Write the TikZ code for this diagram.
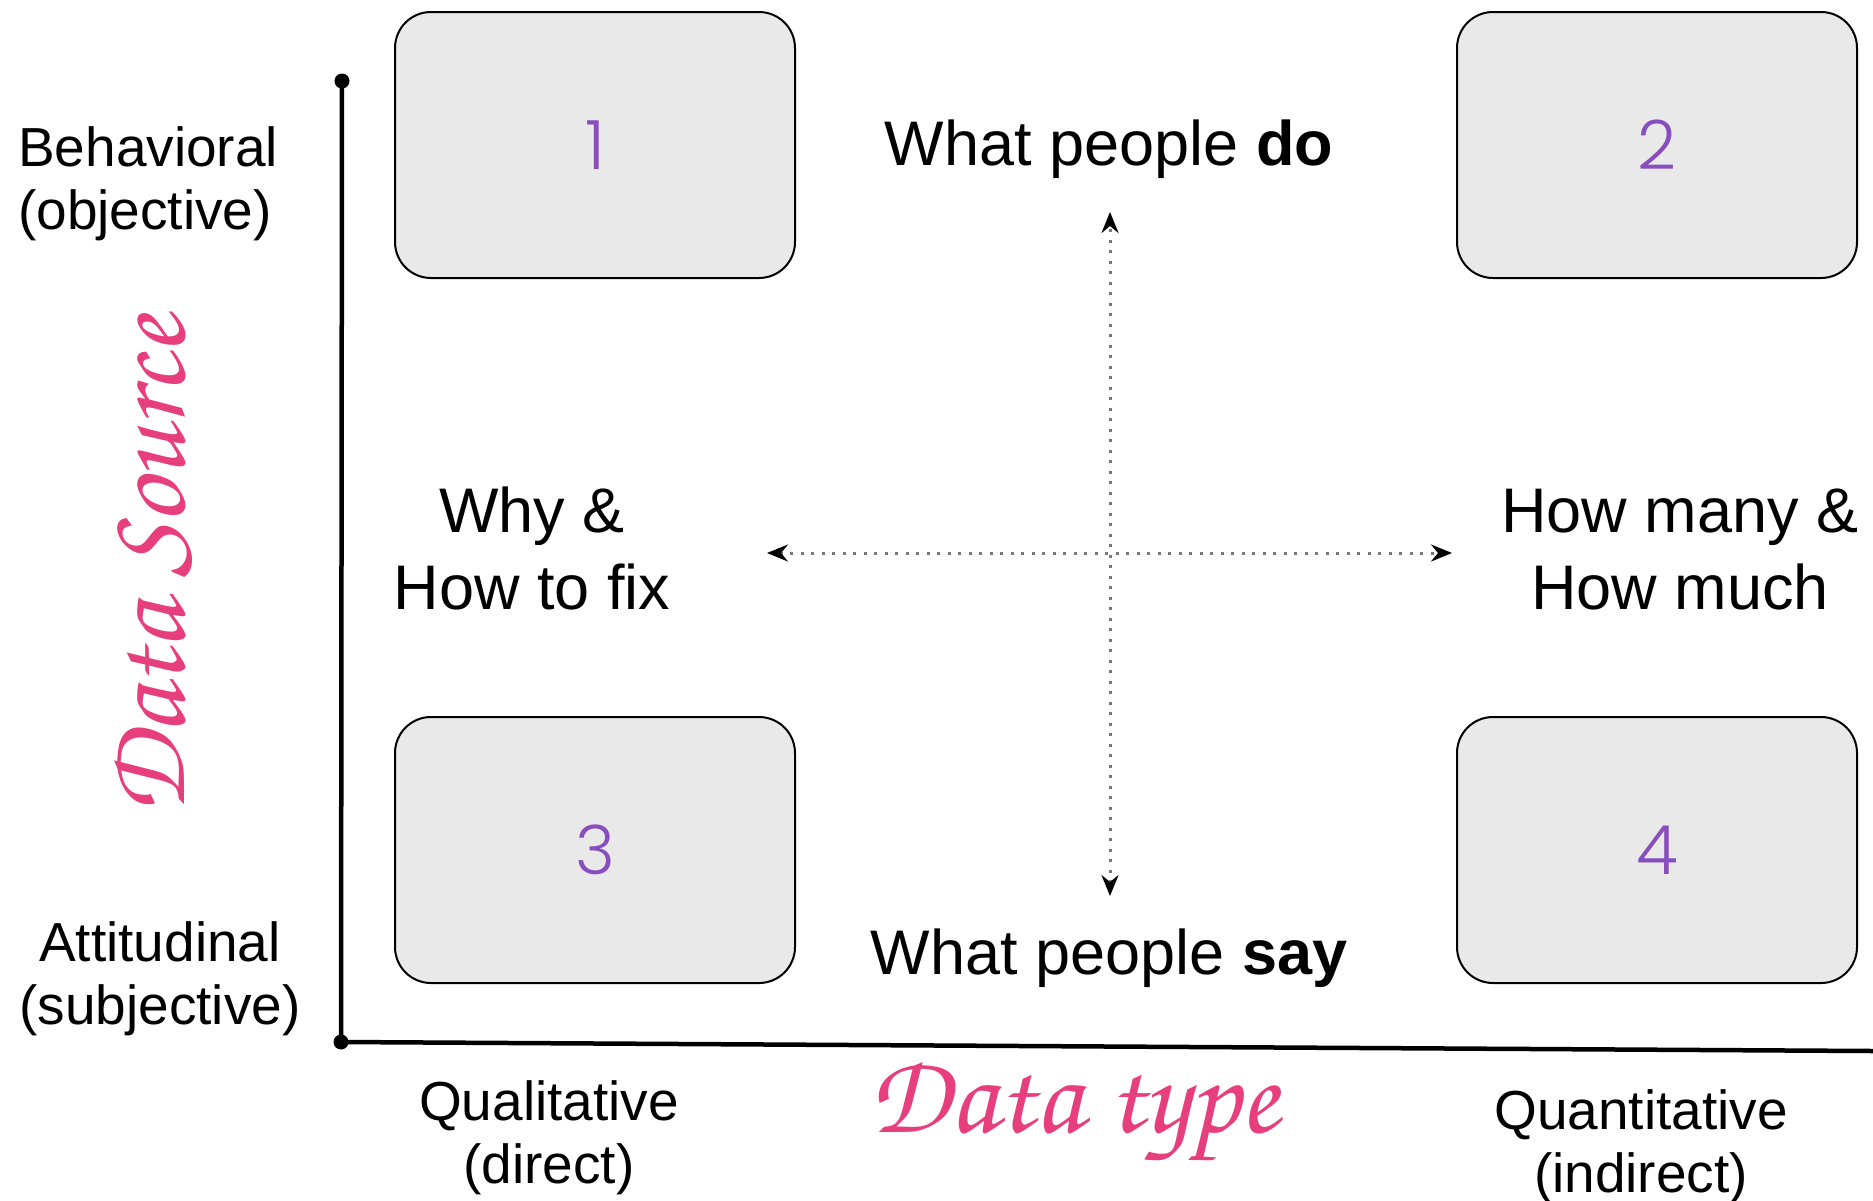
\documentclass[tikz,border=0pt]{standalone}
\usepackage{fontspec}
\setmainfont{Liberation Sans}
\newfontfamily\numfont{Poppins Light}
\newfontfamily\handfont{texgyrechorus-mediumitalic.otf}
\usetikzlibrary{arrows.meta}
\definecolor{boxfill}{RGB}{233,233,233}
\definecolor{numpurple}{RGB}{137,78,189}
\definecolor{handpink}{RGB}{231,62,125}
\definecolor{dotgray}{RGB}{120,120,120}
\tikzset{
  quad/.style={draw=black, line width=2pt, fill=boxfill, rounded corners=36pt,
    minimum width=400pt, minimum height=266pt, inner sep=0pt,
    font=\numfont\fontsize{68}{68}\selectfont, text=numpurple},
  axislabel/.style={align=center, inner sep=0pt, font=\fontsize{55}{63}\selectfont},
  midlabel/.style={align=center, inner sep=0pt, font=\fontsize{63}{77}\selectfont},
  handlabel/.style={inner sep=0pt, text=handpink, font=\handfont\fontsize{114}{114}\selectfont},
  axisline/.style={line width=4.5pt},
  tip/.style={Stealth[black, length=21pt, width=17pt, inset=7pt]},
  dotarrow/.style={dotgray, line width=3pt, dash pattern=on 3pt off 7.5pt,
    {Stealth[black, length=21pt, width=17pt, inset=7pt]}-{Stealth[black, length=21pt, width=17pt, inset=7pt]}}
}
\begin{document}
\begin{tikzpicture}[x=1pt, y=-1pt]
  \useasboundingbox (0,0) rectangle (1873,1200);

  % quadrant boxes
  \node[quad] (q1) at (595,145) {1};
  \node[quad] (q2) at (1657,145) {2};
  \node[quad] (q3) at (595,850) {3};
  \node[quad] (q4) at (1657,850) {4};

  % axes
  \coordinate (ytop) at (342,81);
  \coordinate (origin) at (341,1042);
  \coordinate (xend) at (1873,1051);
  \draw[axisline] (ytop) -- (origin) -- (xend);
  \fill (ytop) circle (7.5pt);
  \fill (origin) circle (7.5pt);

  % axis labels (anchored on the baseline of their last line)
  \node[axislabel, align=left, anchor=base west] (behav) at (18,229) {Behavioral\\(objective)};
  \node[axislabel, anchor=base] (attit) at (160,1024) {Attitudinal\\(subjective)};
  \node[axislabel, anchor=base] (qual) at (549,1183) {Qualitative\\(direct)};
  \node[axislabel, anchor=base] (quant) at (1641,1192) {Quantitative\\(indirect)};

  \node[handlabel, anchor=base] (dtype) at (1074,1132) {Data type};
  \node[handlabel, anchor=base, rotate=90] (dsource) at (184,566) {Data Source};

  % middle labels
  \node[midlabel, anchor=base] (pdo) at (1109,165) {What people \textbf{do}};
  \node[midlabel, anchor=base] (psay) at (1109,974) {What people \textbf{say}};
  \node[midlabel, anchor=base] (why) at (532,609) {Why \&\\How to fix};
  \node[midlabel, anchor=base] (howmany) at (1680,609) {How many \&\\How much};

  % dotted cross
  \coordinate (vtop) at (1110,212);
  \coordinate (vbot) at (1110,896);
  \coordinate (hleft) at (767,553);
  \coordinate (hright) at (1452,553);
  \draw[dotarrow] (vbot) -- (vtop);
  \draw[dotarrow] (hleft) -- (hright);
\end{tikzpicture}
\end{document}
